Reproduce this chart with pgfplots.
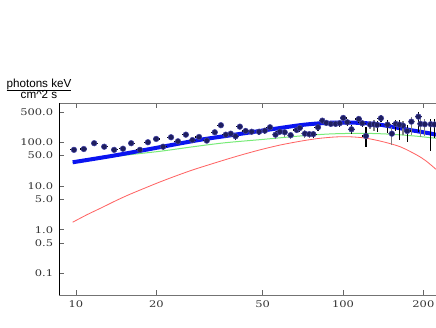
\documentclass[border=0pt]{standalone}
\usepackage{fontspec}
\setmainfont{DejaVu Serif}
\newfontfamily\labelfont{Liberation Sans}
\usepackage{graphicx}
\usepackage{pgfplots}
\pgfplotsset{compat=1.18}
\usepackage{pgfplotstable}

\definecolor{ptfill}{RGB}{30,30,95}
\definecolor{ptedge}{RGB}{70,70,170}
\definecolor{modblue}{RGB}{10,20,240}
\definecolor{modgreen}{RGB}{120,235,120}
\definecolor{modred}{RGB}{255,100,100}
\newcommand{\tl}[1]{\scalebox{1.25}[1]{#1}}

% E  F  dE(rel)  dF+ (rel)  dF- (rel)
\pgfplotstableread{
x y ex eyp eym
9.83 67 0.03 0.13 0.13
10.7 70 0.03 0.13 0.13
11.7 95 0.03 0.12 0.12
12.76 79 0.03 0.13 0.13
13.9 67 0.03 0.13 0.13
15.0 71 0.03 0.13 0.13
16.1 95 0.03 0.12 0.12
17.36 67 0.03 0.13 0.13
18.6 100 0.03 0.12 0.12
19.97 119 0.03 0.12 0.12
21.2 79 0.03 0.17 0.17
22.7 130 0.03 0.12 0.12
24.1 105 0.03 0.13 0.13
25.8 149 0.03 0.12 0.12
27.3 112 0.03 0.13 0.13
28.9 132 0.03 0.12 0.12
30.9 109 0.03 0.14 0.14
33.1 169 0.03 0.12 0.12
34.9 245 0.03 0.12 0.12
36.4 149 0.03 0.15 0.15
38.0 157 0.03 0.13 0.13
39.6 137 0.03 0.16 0.16
41.1 227 0.03 0.13 0.13
43.2 181 0.03 0.14 0.14
45.5 174 0.03 0.15 0.15
48.5 174 0.03 0.15 0.15
51.0 184 0.03 0.15 0.15
53.3 220 0.03 0.14 0.14
58.0 174 0.03 0.18 0.18
67.1 191 0.03 0.17 0.17
68.9 212 0.03 0.17 0.17
77.4 153 0.03 0.2 0.2
80.6 220 0.03 0.16 0.16
83.7 312 0.03 0.15 0.15
86.6 277 0.03 0.15 0.15
90.1 263 0.03 0.16 0.16
93.8 263 0.03 0.16 0.16
97.2 272 0.03 0.16 0.16
100.2 360 0.03 0.15 0.15
103.8 286 0.03 0.17 0.17
107.6 198 0.03 0.22 0.22
114.6 341 0.03 0.18 0.18
118.1 272 0.03 0.2 0.2
121.9 139 0.03 0.6 0.45
134.2 249 0.03 0.25 0.3
138.7 354 0.03 0.2 0.2
146.8 253 0.03 0.3 0.35
157.6 263 0.03 0.25 0.3
162.6 253 0.03 0.3 0.55
173.9 181 0.03 0.35 0.45
191.6 385 0.03 0.25 0.55
213.2 258 0.03 0.3 0.75
220 255 0.03 0.3 0.5
}\blackpts

\pgfplotstableread{
x y ex eyp eym
55.9 149 0.03 0.2 0.2
60.5 169 0.03 0.2 0.2
63.7 145 0.03 0.2 0.2
72.0 157 0.03 0.2 0.2
74.8 153 0.03 0.2 0.2
126.3 253 0.03 0.22 0.22
130.6 258 0.03 0.25 0.3
152.4 157 0.03 0.45 0.45
167.8 240 0.03 0.3 0.4
180.4 296 0.03 0.3 0.5
195.0 263 0.03 0.35 0.5
202.4 258 0.03 0.3 0.45
}\graypts

\begin{document}
\begin{tikzpicture}
\path[use as bounding box] (-35.4pt,-19.2pt) rectangle (226.2pt,177pt);
\begin{axis}[
  name=main,
  at={(0pt,0pt)}, anchor=south west,
  scale only axis, width=226.2pt, height=115.2pt,
  xmode=log, ymode=log,
  xmin=8.64, xmax=223, ymin=0.032, ymax=790,
  axis x line*=box, axis y line*=left,
  x axis line style={black!55},
  y axis line style={black},
  xtick={10,20,50,100,200},
  xticklabels={\tl{10},\tl{20},\tl{50},\tl{100},\tl{200}},
  ytick={0.1,0.5,1,5,10,50,100,500},
  yticklabels={\tl{0.1},\tl{0.5},\tl{1.0},\tl{5.0},\tl{10.0},\tl{50.0},\tl{100.0},\tl{500.0}},
  tick label style={font=\fontsize{5.5}{6}\selectfont, text=black!80},
  major tick length=3pt, minor tick length=1.5pt,
  tick style={black!60},
  clip=true,
]
\addplot[modred, line width=0.5pt, smooth] coordinates {
  (9.72,1.48) (11,2.2) (12.5,3.2) (14,4.5) (15.5,6.0) (17.5,8.2) (20.6,12.3)
  (24,17.5) (27.5,23.5) (32,31.5) (36.7,40.8) (42,52) (48.9,67) (58,86)
  (68.9,105) (80,121) (91.6,131) (100,134) (107,133) (115,129) (122.7,123)
  (140,104) (163.6,79) (189,51) (205,37) (223,24)
};
\addplot[modgreen, line width=0.6pt, smooth] coordinates {
  (9.72,34) (13.4,46) (20.6,62) (27.5,79) (36,97) (50,116) (70,140)
  (90,155) (115,160) (140,156) (165,147) (190,137) (223,123)
};
\addplot[modblue, line width=2.4pt, smooth] coordinates {
  (9.72,34.8) (14,50) (20.6,77) (29,113) (38.8,147) (51.8,191) (68.9,245)
  (80,268) (92,281) (105,282) (122.7,272) (140,248) (163.6,209)
  (190,178) (211,160) (223,148)
};
\addplot[only marks, mark=*, mark size=1.7pt,
  mark options={fill=ptfill, draw=ptedge, line width=0.3pt},
  error bars/.cd, x dir=both, x explicit relative, y dir=both, y explicit relative,
  error mark=none, error bar style={black!50, line width=0.7pt}]
  table[x=x, y=y, x error=ex, y error plus=eyp, y error minus=eym] {\graypts};
\addplot[only marks, mark=*, mark size=1.7pt,
  mark options={fill=ptfill, draw=ptedge, line width=0.3pt},
  error bars/.cd, x dir=both, x explicit relative, y dir=both, y explicit relative,
  error mark=none, error bar style={black, line width=0.7pt}]
  table[x=x, y=y, x error=ex, y error plus=eyp, y error minus=eym] {\blackpts};
\end{axis}
\node[anchor=south, inner sep=0pt, font=\labelfont\fontsize{7}{7}\selectfont]
  at ([xshift=-12pt, yshift=0.5pt]main.north west)
  {\renewcommand{\arraystretch}{0.85}\begin{tabular}{@{}c@{}}photons keV\\\hline cm\textasciicircum 2 s\end{tabular}};
\end{tikzpicture}
\end{document}
